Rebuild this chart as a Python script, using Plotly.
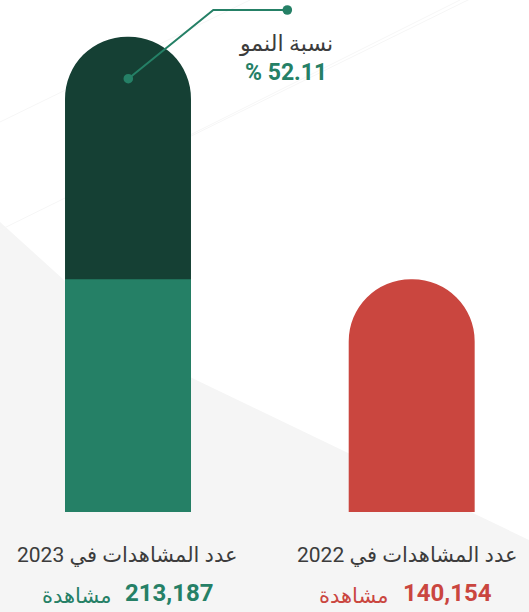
import plotly.graph_objects as go

# data
years = ["2023", "2022"]
views = [213187, 140154]
title_labels = ["عدد المشاهدات في 2023", "عدد المشاهدات في 2022"]
unit_label = "مشاهدة"
growth_label = "نسبة النمو"

growth = (views[0] - views[1]) / views[1] * 100

W, H = 529, 612
PLOT_BOTTOM = 512  # pixel row of the plot area's bottom edge

DARK = "#154034"
GREEN = "#258066"
RED = "#ca463f"
GREY_TXT = "#3c3c3c"
FONT = "Roboto, DejaVu Sans, sans-serif"


def px(x):
    return x / W


def py(y):
    return (PLOT_BOTTOM - y) / PLOT_BOTTOM


fig = go.Figure()

# 2023 bar: full height in dark green, 2022 share overlaid in lighter green
fig.add_trace(go.Bar(x=[years[0]], y=[views[0]], width=0.444,
                     marker=dict(color=DARK, cornerradius="50%", line_width=0),
                     hoverinfo="skip"))
fig.add_trace(go.Bar(x=[years[0]], y=[views[1]], width=0.444,
                     marker=dict(color=GREEN, line_width=0),
                     hoverinfo="skip"))
# 2022 bar
fig.add_trace(go.Bar(x=[years[1]], y=[views[1]], width=0.444,
                     marker=dict(color=RED, cornerradius="50%", line_width=0),
                     hoverinfo="skip"))

shapes = []
# background grey wedge
bg = [(0, 222), (64, 280), (192, 378), (529, 540), (529, 612), (0, 612)]
path = "M " + " L ".join(f"{px(a)},{py(b)}" for a, b in bg) + " Z"
shapes.append(dict(type="path", xref="paper", yref="paper", path=path,
                   fillcolor="#f5f5f5", line_width=0, layer="below"))
# faint diagonal streaks
for (x0, y0, x1, y1) in [(0, 122, 250, 0), (0, 230, 529, -30), (180, 140, 460, 0)]:
    shapes.append(dict(type="line", xref="paper", yref="paper",
                       x0=px(x0), y0=py(y0), x1=px(x1), y1=py(y1),
                       line=dict(color="#f6f6f6", width=1), layer="below"))

# growth connector
conn = [(128.3, 78.7), (213.3, 10), (287.3, 10)]
path = "M " + " L ".join(f"{px(a)},{py(b)}" for a, b in conn)
shapes.append(dict(type="path", xref="paper", yref="paper", path=path,
                   line=dict(color=GREEN, width=2)))
for cx, cy in (conn[0], conn[-1]):
    r = 4.8
    shapes.append(dict(type="circle", xref="paper", yref="paper",
                       x0=px(cx - r), x1=px(cx + r), y0=py(cy + r), y1=py(cy - r),
                       fillcolor=GREEN, line_width=0))

annotations = [
    dict(x=px(285.5), y=py(43), text=growth_label,
         font=dict(size=22, color=GREY_TXT, family=FONT)),
    dict(x=px(285.5), y=py(72), text=f"<b>% {growth:.2f}</b>",
         font=dict(size=23, color=GREEN, family=FONT)),
]

centers = [127, 407]
num_left = [123, 401]
word_right = [113, 390]
colors = [GREEN, RED]
for i in range(2):
    annotations.append(dict(x=px(centers[i]), y=py(555), text=title_labels[i],
                            font=dict(size=21, color=GREY_TXT, family=FONT)))
    annotations.append(dict(x=px(num_left[i]), y=py(593), xanchor="left",
                            text=f"<b>{views[i]:,}</b>",
                            font=dict(size=24, color=colors[i], family=FONT)))
    annotations.append(dict(x=px(word_right[i]), y=py(596), xanchor="right",
                            text=unit_label,
                            font=dict(size=21, color=colors[i], family=FONT)))

for a in annotations:
    a.update(xref="paper", yref="paper", showarrow=False)
    a.setdefault("xanchor", "center")
    a.setdefault("yanchor", "middle")

fig.update_layout(
    width=W, height=H,
    margin=dict(l=0, r=0, t=0, b=H - PLOT_BOTTOM),
    barmode="overlay",
    showlegend=False,
    paper_bgcolor="white",
    plot_bgcolor="rgba(0,0,0,0)",
    xaxis=dict(range=[-0.4512, 1.4135], visible=False, fixedrange=True),
    yaxis=dict(range=[70100, 224235], visible=False, fixedrange=True),
    shapes=shapes,
    annotations=annotations,
)

# drop the page's default body margin so the figure fills the window
fig.write_html("out.html", config={"displayModeBar": False},
               post_script="document.body.style.margin='0';")
